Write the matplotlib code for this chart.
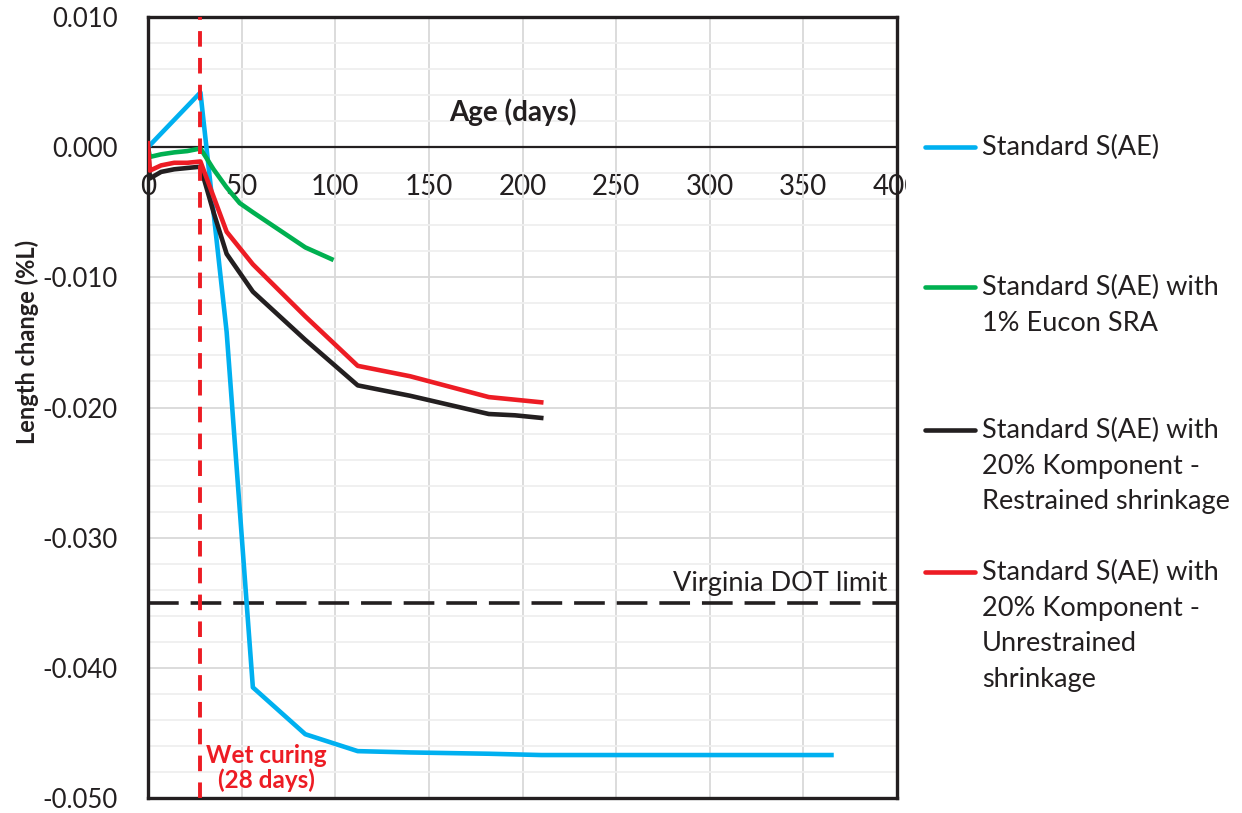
import numpy as np
import matplotlib
matplotlib.use("Agg")
import matplotlib.pyplot as plt
from matplotlib.lines import Line2D
from matplotlib.transforms import Bbox, TransformedBbox

plt.rcParams["font.family"] = ["Lato", "DejaVu Sans"]

# data
blue_days = [0, 28, 42, 56, 84, 112, 140, 182, 210, 365]
blue_vals = [0.0, 0.0042, -0.0142, -0.0415, -0.0451, -0.0464, -0.0465, -0.0466, -0.0467, -0.0467]

green_days = [0, 1, 7, 14, 21, 28, 35, 42, 49, 56, 84, 98]
green_vals = [0.0, -0.00075, -0.00055, -0.0004, -0.0003, -0.0001, -0.0017, -0.0031,
              -0.0043, -0.0050, -0.0077, -0.0086]

black_days = [0, 1, 7, 14, 21, 28, 35, 42, 56, 84, 112, 140, 182, 196, 210]
black_vals = [0.0, -0.0024, -0.0019, -0.0017, -0.0016, -0.0015, -0.0050, -0.0082,
              -0.0111, -0.0148, -0.0183, -0.0191, -0.0205, -0.0206, -0.0208]

red_days = [0, 1, 7, 14, 21, 28, 35, 42, 56, 84, 112, 140, 182, 210]
red_vals = [0.0003, -0.0018, -0.0014, -0.0012, -0.0012, -0.0011, -0.0038, -0.0065,
            -0.0090, -0.0130, -0.0168, -0.0176, -0.0192, -0.0196]

labels = [
    "Standard S(AE)",
    "Standard S(AE) with\n1% Eucon SRA",
    "Standard S(AE) with\n20% Komponent -\nRestrained shrinkage",
    "Standard S(AE) with\n20% Komponent -\nUnrestrained\nshrinkage",
]
colors = ["#00B0F0", "#00B050", "#231F20", "#ED1C24"]

wet_curing_day = 28
dot_limit = -0.035
x_ticks = [0, 50, 100, 150, 200, 250, 300, 350, 400]
y_ticks = [0.010, 0.000, -0.010, -0.020, -0.030, -0.040, -0.050]

W, H = 1242, 813
fig = plt.figure(figsize=(W / 100, H / 100), dpi=100)
ax = fig.add_axes([148 / W, 1 - 798 / H, (897 - 148) / W, (798 - 17) / H])

txt = "#231F20"

ax.set_xlim(0, 400)
ax.set_ylim(-0.050, 0.010)
ax.set_xticks(x_ticks)
ax.set_xticklabels([])
ax.set_yticks(y_ticks)
ax.set_yticklabels(["%.3f" % v for v in y_ticks])
ax.set_yticks(np.arange(-0.050, 0.0101, 0.002), minor=True)
ax.tick_params(axis="both", which="both", length=0)
ax.tick_params(axis="y", labelsize=18.5, pad=22, labelcolor=txt)
ax.grid(which="minor", axis="y", color="#EFEFEF", lw=1.3)
ax.grid(which="major", color="#D9D9D9", lw=1.3)
ax.set_axisbelow(True)
for s in ax.spines.values():
    s.set_linewidth(2.4)
    s.set_color(txt)

# zero line with the day labels under it
ax.axhline(0, color=txt, lw=1.6, zorder=1.5)
sec = ax.secondary_xaxis(0, transform=ax.transData)
sec.set_alignment("bottom")
sec.set_xticks(x_ticks)
sec.tick_params(length=0, labelsize=20, pad=19, labelcolor=txt)
sec.spines["bottom"].set_visible(False)
clip = TransformedBbox(Bbox.from_extents(0, 0, 906 / W, 1), fig.transFigure)
for t in sec.xaxis.get_major_ticks():
    for lab in (t.label1, t.label2):
        lab.set_clip_on(True)
        lab.set_clip_box(clip)

ax.plot(blue_days, blue_vals, color=colors[0], lw=3.3, solid_joinstyle="round", zorder=3)
ax.plot(green_days, green_vals, color=colors[1], lw=3.3, solid_joinstyle="round", zorder=3)
ax.plot(black_days, black_vals, color=colors[2], lw=3.3, solid_joinstyle="round", zorder=3)
ax.plot(red_days, red_vals, color=colors[3], lw=3.3, solid_joinstyle="round", zorder=3)

ax.axvline(wet_curing_day, color="#ED1C24", lw=2.8, dashes=(4.0, 2.9), zorder=4)
ax.axhline(dot_limit, color=txt, lw=2.6, dashes=(8.5, 3.3), zorder=2.5)

ax.text(395, -0.0335, "Virginia DOT limit", ha="right", va="center", fontsize=19.5, color=txt)
ax.text(63, -0.0477, "Wet curing\n(28 days)", ha="center", va="center", fontsize=17.5,
        fontweight="bold", color="#ED1C24", linespacing=1.05, multialignment="center")
ax.text(195, 0.0027, "Age (days)", ha="center", va="center", fontsize=20,
        fontweight="bold", color=txt)

fig.text(27 / W, 1 - 342 / H, "Length change (%L)", rotation=90, ha="center",
         va="center", fontsize=17, fontweight="bold", color=txt)

# legend drawn by hand so the line sits on the first text row
leg_y = [147, 287, 430, 572]
for c, lab, y in zip(colors, labels, leg_y):
    fig.add_artist(Line2D([925 / W, 975 / W], [1 - y / H, 1 - y / H],
                          transform=fig.transFigure, color=c, lw=3.3,
                          solid_capstyle="round"))
    fig.text(982 / W, 1 - (y - 12) / H, lab, ha="left", va="top", fontsize=19.5,
             color=txt, linespacing=1.53)

fig.savefig("out.png", dpi=100)
